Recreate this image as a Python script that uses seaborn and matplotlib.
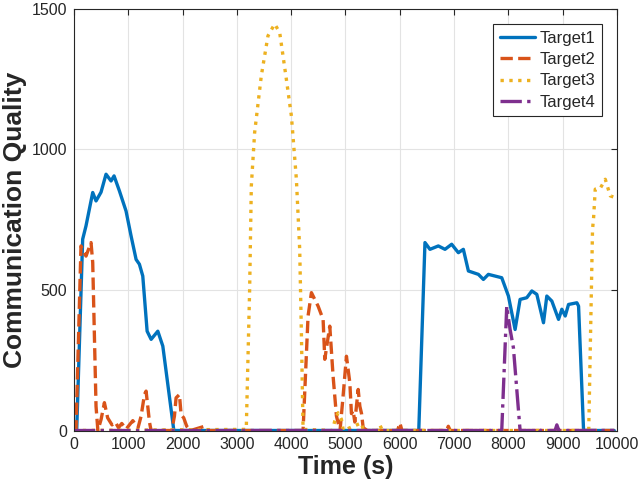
import numpy as np
import pandas as pd
import matplotlib
matplotlib.use("Agg")
import matplotlib.pyplot as plt
import seaborn as sns

# ----------------------
# data
# ----------------------
t1_time = [0, 50, 160, 221, 345, 406, 498, 590, 683, 738, 836, 959, 1052, 1144, 1205,
           1267, 1347, 1421, 1544, 1636, 1839, 6350, 6464, 6556, 6710, 6833, 6956, 7079,
           7171, 7264, 7448, 7540, 7632, 7878, 8001, 8124, 8216, 8339, 8432, 8524, 8647,
           8708, 8801, 8924, 8985, 9047, 9108, 9262, 9293, 9385, 9950]
t1_quality = [0, 0, 680, 727, 846, 816, 847, 911, 887, 905, 852, 780, 691, 608, 591,
              549, 353, 324, 353, 300, 0, 0, 668, 644, 656, 644, 662, 632,
              644, 567, 555, 537, 555, 543, 478, 359, 466, 472, 496, 484, 383,
              478, 460, 395, 431, 407, 448, 454, 442, 0, 0]

t2_time = [0, 37, 129, 221, 314, 345, 406, 440, 500, 560, 620, 700, 760, 820, 880, 960,
           1083, 1180, 1236, 1298, 1328, 1359, 1390, 1420, 1800, 1850, 1880, 1942, 1973,
           2021, 2076, 2150, 2404, 2450, 4219, 4311, 4373, 4496, 4588, 4619, 4711, 4772,
           4834, 4900, 4956, 5018, 5080, 5110, 5141, 5172, 5234, 5265, 5296, 5326, 5400,
           5960, 6002, 6040, 6860, 6894, 6930, 9950]
t2_quality = [0, 0, 656, 620, 668, 597, 86, 0, 40, 99, 45, 20, 30, 10, 25, 5,
              35, 10, 51, 128, 140, 86, 30, 0, 0, 51, 116, 128, 56,
              45, 15, 0, 15, 0, 0, 407, 490, 442, 395, 253, 371, 193,
              51, 0, 122, 264, 170, 60, 71, 30, 146, 86, 60, 10, 0,
              0, 27, 0, 0, 15, 0, 0]

t3_time = [0, 3173, 3235, 3266, 3327, 3450, 3573, 3696, 3788, 3911, 4004, 4096, 4157,
           4188, 4219, 4760, 4803, 4864, 4925, 4960, 5295, 5330, 5600, 5633, 5680,
           9480, 9550, 9570, 9600, 9690, 9785, 9877, 9950]
t3_quality = [0, 4, 502, 869, 1059, 1261, 1403, 1445, 1415, 1249, 1118, 893, 644,
              348, 4, 0, 34, 63, 40, 0, 27, 0, 0, 20, 0,
              0, 715, 757, 858, 860, 893, 834, 829]

t4_time = [0, 7878, 7970, 8032, 8093, 8216, 8500, 8540, 8580, 8860, 8893, 8930, 9950]
t4_quality = [0, 0, 442, 359, 294, 0, 0, 8, 0, 0, 20, 0, 0]

targets = ["Target1", "Target2", "Target3", "Target4"]
colors = ["#0072BD", "#D95319", "#EDB120", "#7E2F8E"]
styles = ["-", "--", ":", "-."]

df = pd.concat([
    pd.DataFrame({"Time": t1_time, "Quality": t1_quality, "Target": "Target1"}),
    pd.DataFrame({"Time": t2_time, "Quality": t2_quality, "Target": "Target2"}),
    pd.DataFrame({"Time": t3_time, "Quality": t3_quality, "Target": "Target3"}),
    pd.DataFrame({"Time": t4_time, "Quality": t4_quality, "Target": "Target4"}),
])

sns.set_style("whitegrid")
plt.rcParams['font.family'] = ['Liberation Sans', 'DejaVu Sans']

fig = plt.figure(figsize=(6.4, 4.95), dpi=100)
ax = fig.add_axes([0.1156, 0.1303, 0.8484, 0.8525])

for name, c, ls in zip(targets, colors, styles):
    sub = df[df["Target"] == name]
    sns.lineplot(data=sub, x="Time", y="Quality", ax=ax, color=c, linestyle=ls,
                 linewidth=2.4, estimator=None, sort=False, label=name)

ax.set_xlim(0, 10000)
ax.set_ylim(0, 1500)
ax.set_xticks(np.arange(0, 10001, 1000))
ax.set_yticks([0, 500, 1000, 1500])
ax.grid(True, color="#e3e3e3", linewidth=0.8)
ax.set_axisbelow(True)
for s in ax.spines.values():
    s.set_color("#262626")
    s.set_linewidth(0.8)
ax.tick_params(direction="in", top=True, right=True, length=4, width=0.8,
               color="#262626", labelsize=11.5, labelcolor="#262626", pad=5)

ax.set_xlabel("Time (s)", fontsize=18, fontweight="bold", color="#262626", labelpad=2)
ax.set_ylabel("Communication Quality", fontsize=19, fontweight="bold", color="#262626", labelpad=3)

leg = ax.legend(loc="upper right", fontsize=12, frameon=True, fancybox=False,
                edgecolor="#262626", framealpha=1, handlelength=2.1,
                borderpad=0.4, labelspacing=0.38, handletextpad=0.25,
                borderaxespad=0, bbox_to_anchor=(0.972, 0.963))
leg.get_frame().set_linewidth(0.8)

fig.savefig("out.png", dpi=100)
